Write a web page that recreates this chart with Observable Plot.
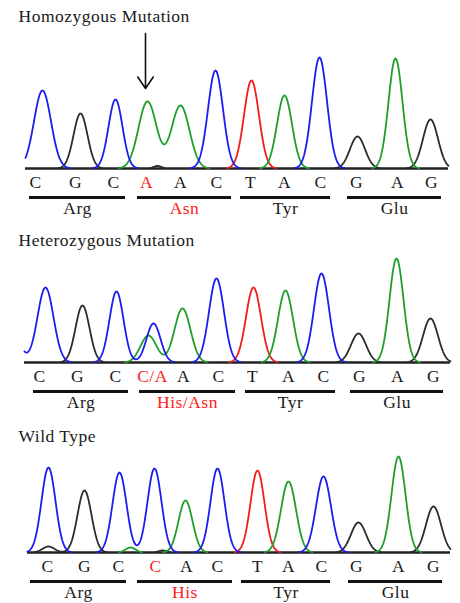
<!DOCTYPE html>
<html><head><meta charset="utf-8">
<script src="https://cdn.jsdelivr.net/npm/d3@7"></script>
<script src="https://cdn.jsdelivr.net/npm/@observablehq/plot@0.6"></script>
<style>body{margin:0;background:#fff} svg{display:block} svg text{letter-spacing:0.5px}</style>
</head><body><div id="chart"></div>
<script>
// ---------- data ----------
const titles = ["Homozygous Mutation", "Heterozygous Mutation", "Wild Type"];

// Peaks (scan position, signal height, peak width, channel)
const homoPeakBase   = ["C","G","C","A","A","C","T","A","C","G","A","G","G"];
const homoPeakPos    = [42, 80, 115, 147, 180, 215, 251, 284, 319, 357, 395, 430, 157];
const homoPeakHeight = [78, 55, 69, 67, 63, 98, 88, 73, 111, 32, 110, 49, 2.5];
const homoPeakWidth  = [8.5, 7, 7, 9, 9, 7.5, 7.5, 7.5, 7.5, 7.5, 7, 7.5, 4];

const hetPeakBase    = ["C","C","G","C","C","A","A","C","T","A","C","G","A","G"];
const hetPeakPos     = [10, 45, 82, 116, 153, 148, 182, 216, 253, 285, 321, 358, 396, 430];
const hetPeakHeight  = [40, 75, 57, 71, 39, 27, 54, 84, 75, 72, 89, 29, 104, 44];
const hetPeakWidth   = [8, 8, 7, 7, 7, 8, 8, 7.5, 7.5, 7.5, 7.5, 7.5, 7, 7.5];

const wtPeakBase     = ["C","G","G","C","A","C","G","A","C","T","A","C","G","A","G"];
const wtPeakPos      = [48, 48, 84, 119, 130, 154, 162, 185, 217, 257, 288, 323, 358, 398, 433];
const wtPeakHeight   = [85, 6, 62, 80, 5, 84, 2, 52, 84, 82, 71, 76, 30, 96, 46];
const wtPeakWidth    = [7, 6, 7, 7, 5, 7, 4, 7, 7, 7, 7.5, 7.5, 7.5, 7, 7.5];

// Trace extent (scan positions)
const homoTrace = [25, 448];
const hetTrace  = [24, 450];
const wtTrace   = [27, 450];

// Base calls
const homoBases   = ["C","G","C","A","A","C","T","A","C","G","A","G"];
const homoBasePos = [35, 75, 113, 146, 180, 216, 250, 284, 320, 356, 397, 431];
const hetBases    = ["C","G","C","C/A","A","C","T","A","C","G","A","G"];
const hetBasePos  = [39, 77, 115, 152, 183, 218, 252, 288, 323, 359, 397, 433];
const wtBases     = ["C","G","C","C","A","C","T","A","C","G","A","G"];
const wtBasePos   = [47, 84, 118, 155, 186, 217, 257, 288, 321, 356, 398, 433];

// Codons / amino acids
const homoAA = ["Arg","Asn","Tyr","Glu"];
const hetAA  = ["Arg","His/Asn","Tyr","Glu"];
const wtAA   = ["Arg","His","Tyr","Glu"];
const homoCodonStart = [29, 137, 240, 347];
const homoCodonEnd   = [125, 231, 330, 441];
const hetCodonStart  = [33, 139, 245, 350];
const hetCodonEnd    = [128, 235, 335, 443];
const wtCodonStart   = [30, 137, 241, 348];
const wtCodonEnd     = [126, 232, 330, 442];

const mutatedBase = 3;   // index in base calls
const mutatedCodon = 1;  // index in codons

// ---------- drawing ----------
const channelColor = {A: "#1f9e2a", C: "#1c1cf0", G: "#2b2b2b", T: "#f21c1c"};
const serif = "'Liberation Serif', 'Times New Roman', serif";
const FS = 17.5;

function traceRows(base, pos, height, width, ext, ch) {
  const rows = [];
  for (let x = ext[0]; x <= ext[1]; x += 0.5) {
    let v = 0;
    for (let i = 0; i < pos.length; i++) {
      if (base[i] === ch) v += height[i] * Math.exp(-((x - pos[i]) ** 2) / (2 * width[i] ** 2));
    }
    rows.push({x, v: v > 0.35 ? v : NaN});
  }
  return rows;
}

function panel(cfg) {
  const {title, peakBase, peakPos, peakHeight, peakWidth, ext, bases, basePos,
         aa, cStart, cEnd, height, baseline, titleY, arrow} = cfg;
  const idxB = d3.range(bases.length);
  const idxC = d3.range(aa.length);
  const marks = [
    Plot.ruleY([0], {x1: ext[0], x2: ext[1], stroke: "#222", strokeWidth: 2.6})
  ];
  for (const ch of ["T", "G", "A", "C"]) {
    marks.push(Plot.line(traceRows(peakBase, peakPos, peakHeight, peakWidth, ext, ch),
      {x: "x", y: "v", stroke: channelColor[ch], strokeWidth: 1.8, curve: "linear"}));
  }
  marks.push(
    Plot.text([title], {x: 18, y: titleY, text: d => d, textAnchor: "start",
      fontFamily: serif, fontSize: FS, fill: "#1a1a1a"}),
    Plot.text(idxB, {x: i => basePos[i], y: -14, text: i => bases[i],
      fill: i => i === mutatedBase ? "#ff1a1a" : "#1a1a1a", fontFamily: serif, fontSize: FS}),
    Plot.ruleY(idxC, {x1: i => cStart[i], x2: i => cEnd[i], y: -29, stroke: "#111", strokeWidth: 3}),
    Plot.text(idxC, {x: i => (cStart[i] + cEnd[i]) / 2, y: -40, text: i => aa[i],
      fill: i => i === mutatedCodon ? "#ff1a1a" : "#1a1a1a", fontFamily: serif, fontSize: FS})
  );
  if (arrow) {
    const top = peakHeight[peakBase.findIndex((b, i) => peakPos[i] === arrow)];
    marks.push(Plot.arrow([0], {x1: arrow - 2, x2: arrow - 2, y1: top + 68, y2: top + 13,
      stroke: "#111", strokeWidth: 1.6, headLength: 13, headAngle: 68}));
  }
  return Plot.plot({
    width: 460, height, margin: 0,
    x: {domain: [0, 460], range: [0, 460], axis: null},
    y: {domain: [0, 100], range: [baseline, baseline - 100], axis: null},
    style: {background: "#fff", overflow: "visible"},
    marks
  });
}

const root = document.getElementById("chart");
root.append(panel({title: titles[0], peakBase: homoPeakBase, peakPos: homoPeakPos,
  peakHeight: homoPeakHeight, peakWidth: homoPeakWidth, ext: homoTrace,
  bases: homoBases, basePos: homoBasePos, aa: homoAA, cStart: homoCodonStart, cEnd: homoCodonEnd,
  height: 226, baseline: 168, titleY: 152, arrow: homoPeakPos[3]}));
root.append(panel({title: titles[1], peakBase: hetPeakBase, peakPos: hetPeakPos,
  peakHeight: hetPeakHeight, peakWidth: hetPeakWidth, ext: hetTrace,
  bases: hetBases, basePos: hetBasePos, aa: hetAA, cStart: hetCodonStart, cEnd: hetCodonEnd,
  height: 190, baseline: 136, titleY: 122}));
root.append(panel({title: titles[2], peakBase: wtPeakBase, peakPos: wtPeakPos,
  peakHeight: wtPeakHeight, peakWidth: wtPeakWidth, ext: wtTrace,
  bases: wtBases, basePos: wtBasePos, aa: wtAA, cStart: wtCodonStart, cEnd: wtCodonEnd,
  height: 187, baseline: 136, titleY: 116}));
</script></body></html>
